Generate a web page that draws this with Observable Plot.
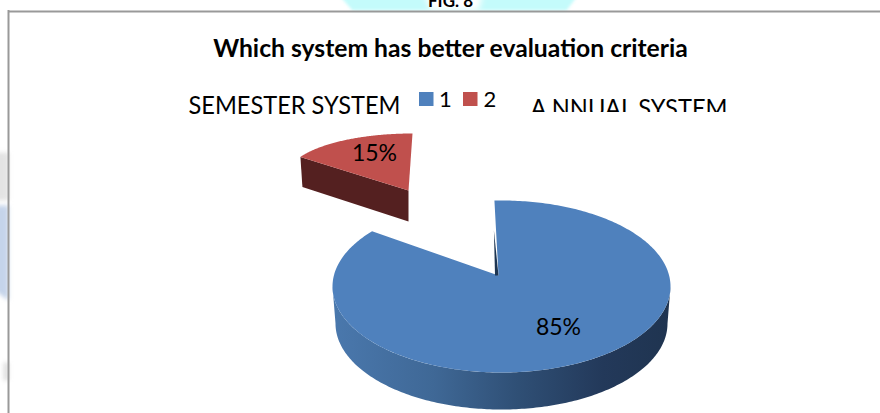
<!DOCTYPE html>
<html><head><meta charset="utf-8">
<script src="https://cdn.jsdelivr.net/npm/d3@7"></script>
<script src="https://cdn.jsdelivr.net/npm/@observablehq/plot@0.6"></script>
<style>html,body{margin:0;padding:0;background:#fff}svg{display:block}</style>
</head><body><div id="c"></div>
<script>
// --- data ---
const categories = ["1", "2"];
const systemNames = ["SEMESTER SYSTEM", "A NNUAL SYSTEM"];
const shares = [85, 15];
const title = "Which system has better evaluation criteria";
const figure = "FIG. 8";
const topColors = ["#4f81bd", "#c0504d"];

// --- layout (px) ---
const W = 880, H = 413;
const font = "Lato, 'Open Sans', sans-serif";
const blue = {ax:498, ay:275, cx:501, cy:286, rx:169, ry:86, start:-2.4, warp:1.021};
const blueLow = {cx:501, cy:323, rx:166, ry:86};
const red = {ax:408, ay:190, cx:412, cy:175, rx:125, ry:42, start:0, warp:1.18, depth:31};

const rad = d => d * Math.PI / 180;
const pt = (e, deg) => [e.cx + e.rx * Math.sin(rad(deg)), e.cy - e.ry * Math.cos(rad(deg))];
const arc = (e, a0, a1, n = 120) => d3.range(n + 1).map(i => pt(e, a0 + (a1 - a0) * i / n));
const polyMark = (pts, fill, extra = {}) =>
  Plot.line(pts, {x: d => d[0], y: d => d[1], fill, stroke: "none", curve: "linear", ...extra});
const blurred = px => ({render(i, s, v, d, c, next){const g = next(i, s, v, d, c); g.style.filter = `blur(${px}px)`; return g;}});
const fitted = len => ({render(i, s, v, d, c, next){
  const g = next(i, s, v, d, c);
  g.querySelectorAll("text").forEach(t => {t.setAttribute("textLength", len); t.setAttribute("lengthAdjust", "spacingAndGlyphs");});
  return g;
}});

// shading of the front wall of the large slice, left to right
const wallStops = [[0, "#4a78ad"], [0.3, "#3f6896"], [0.55, "#2f4f75"], [0.8, "#23395a"], [1, "#1f3450"]];
const defs = () => {
  const ns = "http://www.w3.org/2000/svg";
  const d = document.createElementNS(ns, "defs");
  const g = document.createElementNS(ns, "linearGradient");
  g.setAttribute("id", "wallShade");
  wallStops.forEach(([o, c]) => {
    const s = document.createElementNS(ns, "stop");
    s.setAttribute("offset", o); s.setAttribute("stop-color", c); g.append(s);
  });
  d.append(g);
  return d;
};

const wall = [...arc(blue, 270, 90, 180), ...arc(blueLow, 90, 270, 180)];
const blueSweep = shares[0] * 3.6 * blue.warp;
const blueFace = [[blue.ax, blue.ay], ...arc(blue, blue.start, blue.start + blueSweep, 360)];
const redFace = [[red.ax, red.ay], ...arc(red, red.start - shares[1] * 3.6 * red.warp, red.start)];
const redLeft = pt(red, red.start - shares[1] * 3.6 * red.warp);
const redWall = [redLeft, [red.ax, red.ay], [red.ax, red.ay + red.depth], [redLeft[0] + 2, redLeft[1] + red.depth - 1]];
const blueTop = pt(blue, blue.start);
const sliver = [[blueTop[0] - 0.5, blueTop[1] + 30], [blue.ax, blue.ay], [blue.ax - 3.5, blue.ay]];

const plot = Plot.plot({
  width: W, height: H, margin: 0,
  x: {domain: [0, W], range: [0, W], axis: null},
  y: {domain: [0, H], range: [0, H], axis: null},
  style: {background: "#fff", fontFamily: font},
  marks: [
    defs,
    // page watermark showing around the chart frame
    polyMark([[338,-6],[578,-6],[566,10],[352,10]], "#c4fbfb", blurred(1.5)),
    polyMark([[424,-6],[482,-6],[478,10],[430,10]], "#ffffff", blurred(3)),
    polyMark([[-6,205],[8,205],[8,300],[-6,290]], "#c5d4ea", blurred(2)),
    polyMark([[-6,152],[8,152],[8,200],[-6,200]], "#e3e3e3", blurred(2)),
    polyMark([[3,362],[8,362],[8,380],[3,380]], "#dddddd", blurred(2)),
    // frame
    Plot.ruleY([11], {x1: 8, x2: W, stroke: "#999", strokeWidth: 2}),
    Plot.ruleX([8], {y1: 10, y2: H, stroke: "#999", strokeWidth: 2}),
    // figure label
    Plot.text([figure], {x: 450, y: 6, text: d => d, lineAnchor: "bottom", fontSize: 17, fontWeight: 700, fill: "#000"}),
    // title
    Plot.text([title], {x: 450, y: 56, text: d => d, lineAnchor: "bottom", fontSize: 24.7, fontWeight: 700, fill: "#000"}),
    // legend row
    Plot.text([systemNames[0]], {x: 188, y: 113, text: d => d, lineAnchor: "bottom", textAnchor: "start", fontSize: 25, fill: "#000", ...fitted(212)}),
    Plot.text([systemNames[1]], {x: 530, y: 116, text: d => d, lineAnchor: "bottom", textAnchor: "start", fontSize: 25, fill: "#000", ...fitted(197)}),
    Plot.rect([0], {x1: 520, x2: 740, y1: 112, y2: 120, fill: "#fff"}),
    Plot.rect(categories, {x1: (d, i) => 419 + 44 * i, x2: (d, i) => 433.5 + 44 * i, y1: 92, y2: 106, fill: (d, i) => topColors[i]}),
    Plot.text(categories, {x: (d, i) => 438.5 + 44.5 * i, y: 106, text: d => d, lineAnchor: "bottom", textAnchor: "start", fontSize: 22, fill: "#000"}),
    // large slice
    polyMark(wall, "url(#wallShade)"),
    polyMark(blueFace, topColors[0]),
    polyMark(sliver, "#1d3552"),
    // exploded slice
    polyMark(redWall, "#542020"),
    polyMark(redFace, topColors[1]),
    // data labels
    Plot.text([shares[1]], {x: 374, y: 160, text: d => d + "%", lineAnchor: "bottom", fontSize: 23, fill: "#000"}),
    Plot.text([shares[0]], {x: 558, y: 334, text: d => d + "%", lineAnchor: "bottom", fontSize: 23, fill: "#000"})
  ]
});
document.getElementById("c").append(plot);
</script>
</body></html>
